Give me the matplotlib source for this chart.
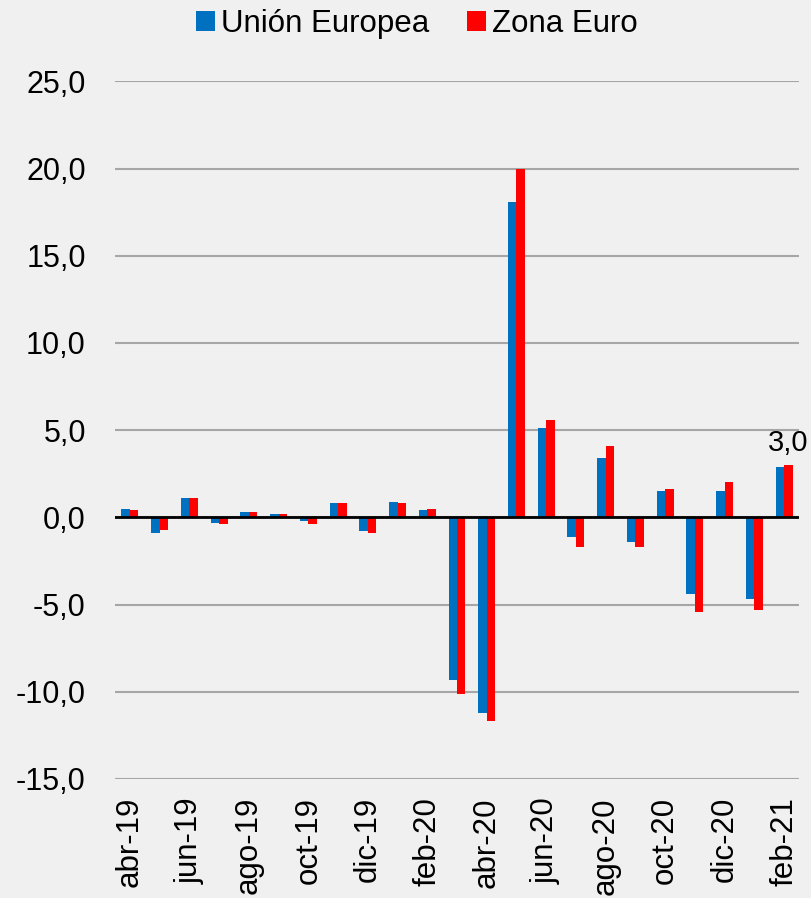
import matplotlib
matplotlib.use("Agg")
import matplotlib.pyplot as plt
import numpy as np
from matplotlib import font_manager

months = ["abr-19", "may-19", "jun-19", "jul-19", "ago-19", "sep-19", "oct-19",
          "nov-19", "dic-19", "ene-20", "feb-20", "mar-20", "abr-20", "may-20",
          "jun-20", "jul-20", "ago-20", "sep-20", "oct-20", "nov-20", "dic-20",
          "ene-21", "feb-21"]
ue = [0.5, -0.9, 1.1, -0.3, 0.3, 0.2, -0.2, 0.8, -0.8, 0.9, 0.4, -9.3, -11.2,
      18.1, 5.1, -1.1, 3.4, -1.4, 1.5, -4.4, 1.5, -4.7, 2.9]
ze = [0.4, -0.7, 1.1, -0.4, 0.3, 0.2, -0.4, 0.8, -0.9, 0.8, 0.5, -10.1, -11.7,
      20.0, 5.6, -1.7, 4.1, -1.7, 1.6, -5.4, 2.0, -5.3, 3.0]
series_names = ["Unión Europea", "Zona Euro"]
colors = ["#0070C0", "#FF0000"]

available = {f.name for f in font_manager.fontManager.ttflist}
base_font = "Liberation Sans" if "Liberation Sans" in available else "DejaVu Sans"
plt.rcParams["font.family"] = [base_font, "DejaVu Sans"]

W, H = 811, 898
fig = plt.figure(figsize=(W / 100, H / 100), dpi=100)
fig.patch.set_facecolor("#f0f0f0")
ax = fig.add_axes([115 / W, 1 - 779 / H, (799 - 115) / W, (779 - 81.3) / H])
ax.set_facecolor("none")

x = np.arange(len(months))
w = 0.285
b1 = ax.bar(x - w / 2, ue, width=w, color=colors[0], label=series_names[0], zorder=3)
b2 = ax.bar(x + w / 2, ze, width=w, color=colors[1], label=series_names[1], zorder=3)

ax.set_xlim(-0.5, len(months) - 0.5)
ax.set_ylim(-15, 25)
yt = np.arange(-15, 26, 5)
ax.set_yticks(yt)
ax.set_yticklabels([f"{v:.1f}".replace(".", ",") for v in yt], fontsize=22)
ax.grid(axis="y", color="#A6A6A6", linewidth=1.5, zorder=0)
ax.axhline(0, color="black", linewidth=2, zorder=4)
ax.set_xticks(x[::2])
ax.set_xticklabels(months[::2], rotation=90, fontsize=22.5)
ax.tick_params(axis="y", length=0, pad=21)
ax.tick_params(axis="x", length=0, pad=13)
for s in ax.spines.values():
    s.set_visible(False)

ax.annotate(f"{ze[-1]:.1f}".replace(".", ","), xy=(x[-1] + w / 2, ze[-1]),
            xytext=(0, 6), textcoords="offset points", ha="center", va="bottom",
            fontsize=21)

fig.legend(handles=[b1, b2], loc="center", bbox_to_anchor=(417 / W, 1 - 24 / H),
           ncol=2, frameon=False, prop={"size": 22.5},
           handlelength=0.61, handleheight=0.58, handletextpad=0.19,
           columnspacing=1.2, borderpad=0.2)

fig.savefig("out.png", dpi=100, facecolor=fig.get_facecolor())
